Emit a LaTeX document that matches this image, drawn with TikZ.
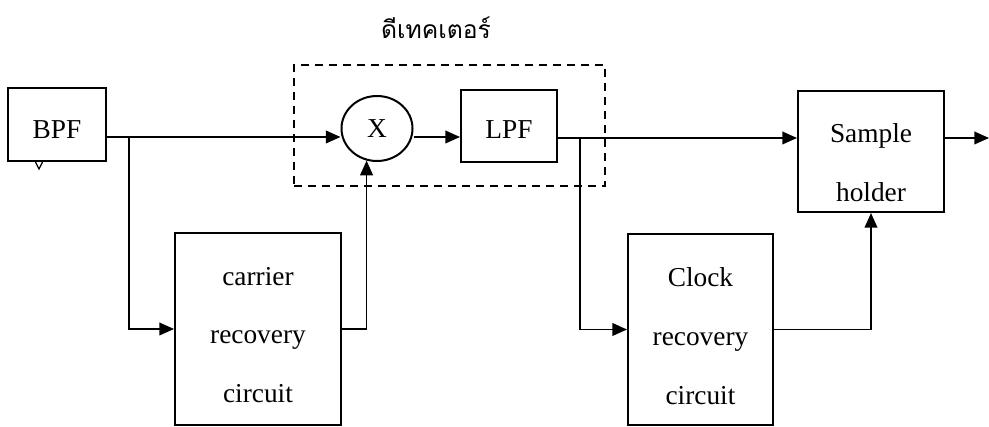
\documentclass[tikz,border=0pt]{standalone}
\usepackage{fontspec}
\setmainfont{Liberation Serif}
\newfontfamily\thaifont[Script=Thai]{Loma}
\usetikzlibrary{arrows.meta,shapes.geometric}

\begin{document}
\begin{tikzpicture}[x=0.75pt,y=-0.75pt,
  line width=1.3pt,
  box/.style={draw,line width=1.5pt,rectangle,inner sep=0pt},
  boxtext/.style={inner sep=0pt,font=\fontsize{20.5}{44}\selectfont,align=center},
  flow/.style={-{Triangle[length=11pt,width=9.5pt]}},
  detbox/.style={draw,line width=1.3pt,dash pattern=on 6pt off 4.5pt,inner sep=0pt},
]
\useasboundingbox (0,0) rectangle (989,427);

% blocks
\node[box,minimum width=98*0.75pt,minimum height=73*0.75pt] (bpf) at (57,124.5) {};
\node[boxtext] (bpftext) at (57,129.5) {BPF};
\node[draw,ellipse,line width=1.5pt,inner sep=0pt,minimum width=71*0.75pt,minimum height=65*0.75pt,
      font=\fontsize{20.5}{24}\selectfont] (mix) at (377,128.5) {X};
\node[box,minimum width=96*0.75pt,minimum height=72*0.75pt] (lpf) at (509,126) {};
\node[boxtext] (lpftext) at (509,130) {LPF};
\node[box,minimum width=146*0.75pt,minimum height=121*0.75pt] (sample) at (871,151.5) {};
\node[boxtext] (sampletext) at (871,162.5) {Sample\\holder};
\node[box,minimum width=166*0.75pt,minimum height=192*0.75pt] (carrier) at (258,329) {};
\node[boxtext] (carriertext) at (258,335) {carrier\\recovery\\circuit};
\node[box,minimum width=145*0.75pt,minimum height=191*0.75pt] (clock) at (700.5,329.5) {};
\node[boxtext] (clocktext) at (700.5,336) {Clock\\recovery\\circuit};

% detector group
\node[detbox,minimum width=311*0.75pt,minimum height=121*0.75pt] (det) at (449.5,125.5) {};
\node[font=\thaifont\fontsize{18.5}{20}\selectfont] (detlabel) at (436,28) {ดีเทคเตอร์};

% small mark under BPF
\draw[line width=0.9pt] (35,161) -- (39,169) -- (43,161);

% junctions and free end
\coordinate (ja) at (129,137);
\coordinate (jb) at (580,138);
\coordinate (out) at (989,138);

% connectors
\draw[flow] (bpf.east |- ja) -- (mix.west |- ja);
\draw[flow] (ja) |- (carrier.west);
\draw[flow] (carrier.east) -| (mix.252);
\draw[flow] (mix.east |- ja) -- (lpf.west |- ja);
\draw[flow] (lpf.east |- jb) -- (sample.west |- jb);
\draw[flow] (jb) |- (clock.west);
\draw[flow] (clock.east) -| (sample.south);
\draw[flow] (sample.east |- jb) -- (out);
\end{tikzpicture}
\end{document}
